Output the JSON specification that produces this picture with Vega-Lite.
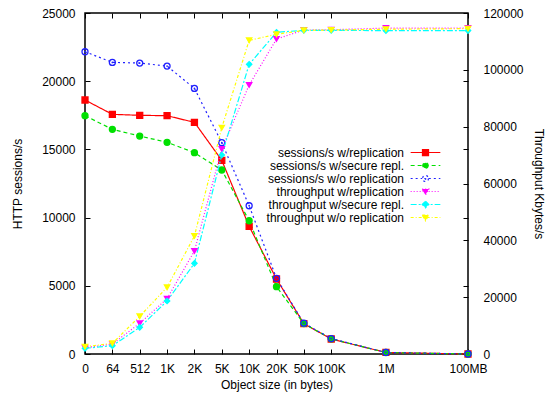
{
  "$schema": "https://vega.github.io/schema/vega-lite/v6.json",
  "width": 383,
  "height": 341,
  "autosize": {"type": "none"},
  "padding": {"left": 85, "top": 13, "right": 80, "bottom": 47},
  "background": "white",
  "config": {
    "font": "Liberation Sans",
    "view": {"stroke": "black", "strokeWidth": 1.5},
    "axis": {"domain": false, "grid": false, "tickColor": "black", "tickSize": -5, "tickWidth": 1, "labelFontSize": 12, "labelColor": "black", "titleFontSize": 12, "titleFontWeight": "normal", "titleColor": "black", "labelFont": "Liberation Sans", "titleFont": "Liberation Sans"},
    "legend": {"labelFont": "Liberation Sans"}
  },
  "datasets": {
    "sessions": [
      {"x": 0, "size": "0", "series": "sessions/s w/replication", "value": 18620},
      {"x": 1, "size": "64", "series": "sessions/s w/replication", "value": 17570},
      {"x": 2, "size": "512", "series": "sessions/s w/replication", "value": 17500},
      {"x": 3, "size": "1K", "series": "sessions/s w/replication", "value": 17470},
      {"x": 4, "size": "2K", "series": "sessions/s w/replication", "value": 16985},
      {"x": 5, "size": "5K", "series": "sessions/s w/replication", "value": 14200},
      {"x": 6, "size": "10K", "series": "sessions/s w/replication", "value": 9360},
      {"x": 7, "size": "20K", "series": "sessions/s w/replication", "value": 5500},
      {"x": 8, "size": "50K", "series": "sessions/s w/replication", "value": 2220},
      {"x": 9, "size": "100K", "series": "sessions/s w/replication", "value": 1100},
      {"x": 11, "size": "1M", "series": "sessions/s w/replication", "value": 112},
      {"x": 14, "size": "100MB", "series": "sessions/s w/replication", "value": 1},
      {"x": 0, "size": "0", "series": "sessions/s w/secure repl.", "value": 17470},
      {"x": 1, "size": "64", "series": "sessions/s w/secure repl.", "value": 16470},
      {"x": 2, "size": "512", "series": "sessions/s w/secure repl.", "value": 15980},
      {"x": 3, "size": "1K", "series": "sessions/s w/secure repl.", "value": 15520},
      {"x": 4, "size": "2K", "series": "sessions/s w/secure repl.", "value": 14760},
      {"x": 5, "size": "5K", "series": "sessions/s w/secure repl.", "value": 13490},
      {"x": 6, "size": "10K", "series": "sessions/s w/secure repl.", "value": 9770},
      {"x": 7, "size": "20K", "series": "sessions/s w/secure repl.", "value": 4935},
      {"x": 8, "size": "50K", "series": "sessions/s w/secure repl.", "value": 2230},
      {"x": 9, "size": "100K", "series": "sessions/s w/secure repl.", "value": 1110},
      {"x": 11, "size": "1M", "series": "sessions/s w/secure repl.", "value": 110},
      {"x": 14, "size": "100MB", "series": "sessions/s w/secure repl.", "value": 1},
      {"x": 0, "size": "0", "series": "sessions/s w/o replication", "value": 22160},
      {"x": 1, "size": "64", "series": "sessions/s w/o replication", "value": 21380},
      {"x": 2, "size": "512", "series": "sessions/s w/o replication", "value": 21330},
      {"x": 3, "size": "1K", "series": "sessions/s w/o replication", "value": 21110},
      {"x": 4, "size": "2K", "series": "sessions/s w/o replication", "value": 19470},
      {"x": 5, "size": "5K", "series": "sessions/s w/o replication", "value": 15490},
      {"x": 6, "size": "10K", "series": "sessions/s w/o replication", "value": 10870},
      {"x": 7, "size": "20K", "series": "sessions/s w/o replication", "value": 5550},
      {"x": 8, "size": "50K", "series": "sessions/s w/o replication", "value": 2260},
      {"x": 9, "size": "100K", "series": "sessions/s w/o replication", "value": 1130},
      {"x": 11, "size": "1M", "series": "sessions/s w/o replication", "value": 112},
      {"x": 14, "size": "100MB", "series": "sessions/s w/o replication", "value": 1}
    ],
    "throughput": [
      {"x": 0, "size": "0", "series": "throughput w/replication", "value": 2200},
      {"x": 1, "size": "64", "series": "throughput w/replication", "value": 3500},
      {"x": 2, "size": "512", "series": "throughput w/replication", "value": 10800},
      {"x": 3, "size": "1K", "series": "throughput w/replication", "value": 19470},
      {"x": 4, "size": "2K", "series": "throughput w/replication", "value": 36250},
      {"x": 5, "size": "5K", "series": "throughput w/replication", "value": 72140},
      {"x": 6, "size": "10K", "series": "throughput w/replication", "value": 94660},
      {"x": 7, "size": "20K", "series": "throughput w/replication", "value": 110850},
      {"x": 8, "size": "50K", "series": "throughput w/replication", "value": 114000},
      {"x": 9, "size": "100K", "series": "throughput w/replication", "value": 114100},
      {"x": 11, "size": "1M", "series": "throughput w/replication", "value": 114700},
      {"x": 14, "size": "100MB", "series": "throughput w/replication", "value": 114700},
      {"x": 0, "size": "0", "series": "throughput w/secure repl.", "value": 2000},
      {"x": 1, "size": "64", "series": "throughput w/secure repl.", "value": 2900},
      {"x": 2, "size": "512", "series": "throughput w/secure repl.", "value": 9380},
      {"x": 3, "size": "1K", "series": "throughput w/secure repl.", "value": 18650},
      {"x": 4, "size": "2K", "series": "throughput w/secure repl.", "value": 31900},
      {"x": 5, "size": "5K", "series": "throughput w/secure repl.", "value": 70030},
      {"x": 6, "size": "10K", "series": "throughput w/secure repl.", "value": 101930},
      {"x": 7, "size": "20K", "series": "throughput w/secure repl.", "value": 113200},
      {"x": 8, "size": "50K", "series": "throughput w/secure repl.", "value": 113900},
      {"x": 9, "size": "100K", "series": "throughput w/secure repl.", "value": 113900},
      {"x": 11, "size": "1M", "series": "throughput w/secure repl.", "value": 113800},
      {"x": 14, "size": "100MB", "series": "throughput w/secure repl.", "value": 113800},
      {"x": 0, "size": "0", "series": "throughput w/o replication", "value": 2570},
      {"x": 1, "size": "64", "series": "throughput w/o replication", "value": 3750},
      {"x": 2, "size": "512", "series": "throughput w/o replication", "value": 13260},
      {"x": 3, "size": "1K", "series": "throughput w/o replication", "value": 23460},
      {"x": 4, "size": "2K", "series": "throughput w/o replication", "value": 41520},
      {"x": 5, "size": "5K", "series": "throughput w/o replication", "value": 79650},
      {"x": 6, "size": "10K", "series": "throughput w/o replication", "value": 110380},
      {"x": 7, "size": "20K", "series": "throughput w/o replication", "value": 112500},
      {"x": 8, "size": "50K", "series": "throughput w/o replication", "value": 113900},
      {"x": 9, "size": "100K", "series": "throughput w/o replication", "value": 114000},
      {"x": 11, "size": "1M", "series": "throughput w/o replication", "value": 114300},
      {"x": 14, "size": "100MB", "series": "throughput w/o replication", "value": 114500}
    ]
  },
  "layer": [
    {
      "data": {"name": "sessions"},
      "encoding": {
        "x": {"field": "x", "type": "quantitative", "scale": {"domain": [0, 14], "nice": false, "zero": false},
          "axis": {"values": [0, 1, 2, 3, 4, 5, 6, 7, 8, 9, 11, 14], "labelExpr": "['0','64','512','1K','2K','5K','10K','20K','50K','100K','','1M','','','100MB'][datum.value]", "title": "Object size (in bytes)", "labelPadding": 14, "titlePadding": 5, "labelFlush": false}},
        "y": {"field": "value", "type": "quantitative", "scale": {"domain": [0, 25000], "nice": false},
          "axis": {"values": [0, 5000, 10000, 15000, 20000, 25000], "format": "d", "title": "HTTP sessions/s", "labelPadding": 15, "titlePadding": 17, "labelFlush": false}}
      },
      "layer": [
        {
          "mark": {"type": "line", "strokeWidth": 1.2},
          "encoding": {
            "color": {"field": "series", "type": "nominal", "scale": {"domain": ["sessions/s w/replication", "sessions/s w/secure repl.", "sessions/s w/o replication", "throughput w/replication", "throughput w/secure repl.", "throughput w/o replication"], "range": ["#ff0000", "#00e000", "#2020ff", "#ff00ff", "#00ffff", "#ffff00"]},
              "legend": {"title": null, "orient": "none", "legendX": 334, "legendY": 133, "labelFontSize": 12, "labelColor": "black", "labelAlign": "right", "labelOffset": -28, "symbolSize": 121, "rowPadding": 0, "symbolStrokeWidth": 1.2,
                "encode": {"symbols": {"update": {
                  "shape": {"signal": "{'sessions/s w/replication':'M-2.7,0H2.7M-0.55,-0.55H0.55V0.55H-0.55Z','sessions/s w/secure repl.':'M-2.7,0H2.7M0.5,0L0.43,0.25L0.25,0.43L0,0.5L-0.25,0.43L-0.43,0.25L-0.5,0L-0.43,-0.25L-0.25,-0.43L0,-0.5L0.25,-0.43L0.43,-0.25Z','sessions/s w/o replication':'M-2.7,0H-0.6M0.6,0H2.7M0.55,0L0.48,0.28L0.28,0.48L0,0.55L-0.28,0.48L-0.48,0.28L-0.55,0L-0.48,-0.28L-0.28,-0.48L0,-0.55L0.28,-0.48L0.48,-0.28ZM0.12,0L0,0.12L-0.12,0L0,-0.12Z','throughput w/replication':'M-2.7,0H2.7M-0.6,-0.45L0.6,-0.45L0,0.6Z','throughput w/secure repl.':'M-2.7,0H2.7M0,-0.6L0.6,0L0,0.6L-0.6,0Z','throughput w/o replication':'M-2.7,0H2.7M-0.6,-0.45L0.6,-0.45L0,0.6Z'}[datum.value]"},
                  "fill": {"signal": "datum.value == 'sessions/s w/o replication' ? 'transparent' : scale('color', datum.value)"}
                }}}}},
            "strokeDash": {"field": "series", "type": "nominal", "scale": {"domain": ["sessions/s w/replication", "sessions/s w/secure repl.", "sessions/s w/o replication", "throughput w/replication", "throughput w/secure repl.", "throughput w/o replication"], "range": [[1, 0], [4, 3], [2, 3], [1, 2], [6, 2, 2, 2], [3, 2, 1, 2]]}, "legend": null}
          }
        },
        {
          "transform": [{"calculate": "datum.series", "as": "marker"}],
          "mark": {"type": "point", "size": 36, "strokeWidth": 1.3, "opacity": 1},
          "encoding": {
            "shape": {"field": "marker", "type": "nominal", "scale": {"domain": ["sessions/s w/replication", "sessions/s w/secure repl.", "sessions/s w/o replication"], "range": ["square", "circle", "circle"]}, "legend": null},
            "stroke": {"field": "marker", "type": "nominal", "scale": {"domain": ["sessions/s w/replication", "sessions/s w/secure repl.", "sessions/s w/o replication"], "range": ["#ff0000", "#00e000", "#2020ff"]}, "legend": null},
            "fill": {"field": "marker", "type": "nominal", "scale": {"domain": ["sessions/s w/replication", "sessions/s w/secure repl.", "sessions/s w/o replication"], "range": ["#ff0000", "#00e000", "transparent"]}, "legend": null}
          }
        },
        {
          "transform": [{"filter": "datum.series == 'sessions/s w/o replication'"}],
          "mark": {"type": "point", "shape": "circle", "size": 3, "filled": true, "color": "#2020ff", "opacity": 1},
          "encoding": {}
        }
      ]
    },
    {
      "data": {"name": "sessions"},
      "mark": {"type": "point", "opacity": 0},
      "encoding": {
        "x": {"field": "x", "type": "quantitative", "scale": {"domain": [0, 14], "nice": false, "zero": false}, "axis": null},
        "y": {"field": "value", "type": "quantitative", "scale": {"domain": [0, 25000], "nice": false},
          "axis": {"orient": "right", "values": [5000, 10000, 15000, 20000], "labels": false, "title": null}}
      }
    },
    {
      "data": {"name": "throughput"},
      "encoding": {
        "x": {"field": "x", "type": "quantitative", "scale": {"domain": [0, 14], "nice": false, "zero": false},
          "axis": {"orient": "top", "values": [0, 1, 2, 3, 4, 5, 6, 7, 8, 9, 11, 14], "labels": false, "title": null}},
        "y": {"field": "value", "type": "quantitative", "scale": {"domain": [0, 120000], "nice": false},
          "axis": {"orient": "right", "values": [0, 20000, 40000, 60000, 80000, 100000, 120000], "format": "d", "title": "Throughput Kbytes/s", "labelPadding": 20, "titlePadding": 8, "labelFlush": false}}
      },
      "layer": [
        {
          "mark": {"type": "line", "strokeWidth": 1.2},
          "encoding": {
            "color": {"field": "series", "type": "nominal"},
            "strokeDash": {"field": "series", "type": "nominal", "legend": null}
          }
        },
        {
          "transform": [{"calculate": "datum.series", "as": "marker"}],
          "mark": {"type": "point", "size": 30, "strokeWidth": 1.2, "filled": true, "opacity": 1},
          "encoding": {
            "shape": {"field": "marker", "type": "nominal", "scale": {"domain": ["throughput w/replication", "throughput w/secure repl.", "throughput w/o replication"], "range": ["triangle-down", "diamond", "triangle-down"]}, "legend": null},
            "fill": {"field": "marker", "type": "nominal", "scale": {"domain": ["throughput w/replication", "throughput w/secure repl.", "throughput w/o replication"], "range": ["#ff00ff", "#00ffff", "#ffff00"]}, "legend": null},
            "stroke": {"field": "marker", "type": "nominal", "scale": {"domain": ["throughput w/replication", "throughput w/secure repl.", "throughput w/o replication"], "range": ["#ff00ff", "#00ffff", "#ffff00"]}, "legend": null}
          }
        }
      ]
    }
  ],
  "resolve": {"scale": {"y": "independent", "shape": "independent", "stroke": "independent", "fill": "independent"}, "axis": {"x": "independent"}}
}
